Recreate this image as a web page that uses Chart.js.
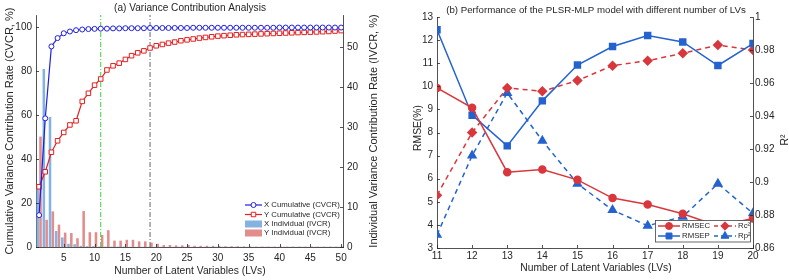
<!DOCTYPE html>
<html><head><meta charset="utf-8">
<script src="https://cdn.jsdelivr.net/npm/chart.js@4/dist/chart.umd.min.js"></script>
<style>
html,body{margin:0;padding:0;background:#fff;overflow:hidden;}
#wrap{position:relative;width:789px;height:280px;}
#c1{position:absolute;left:0;top:0;}
#c2{position:absolute;left:400px;top:0;}
</style></head><body>
<div id="wrap"><canvas id="c1" width="400" height="280"></canvas><canvas id="c2" width="389" height="280"></canvas></div>
<script>
// ---------- Data: (a) Variance Contribution Analysis ----------
const lvsA = [1,2,3,4,5,6,7,8,9,10,11,12,13,14,15,16,17,18,19,20,21,22,23,24,25,26,27,28,29,30,31,32,33,34,35,36,37,38,39,40,41,42,43,44,45,46,47,48,49,50];
const xCum = [14.5,58.5,91.2,95.0,97.2,98.0,98.6,98.9,99.1,99.2,99.3,99.3,99.4,99.4,99.5,99.5,99.5,99.5,99.6,99.6,99.6,99.6,99.6,99.6,99.6,99.7,99.7,99.7,99.7,99.7,99.7,99.7,99.7,99.7,99.7,99.7,99.7,99.7,99.7,99.8,99.8,99.8,99.8,99.8,99.8,99.8,99.8,99.8,99.8,99.8];
const yCum = [27.4,34.2,43.1,48.3,52.1,55.5,57.4,66.2,69.9,73.6,76.4,80.5,82.4,83.6,85.3,87.0,88.3,89.2,90.5,91.5,92.1,92.7,93.2,93.8,94.2,94.6,95.0,95.3,95.6,95.9,96.1,96.3,96.5,96.6,96.7,96.8,96.9,97.0,97.1,97.2,97.3,97.4,97.5,97.6,97.7,97.8,97.9,98.0,98.2,98.4];
const xInd = [14.5,44.5,32.5,4.0,2.4,0.8,0.7,0.3,0.2,0.2,0.1,0.1,0.1,0.1,0.1,0.05,0.05,0.05,0.05,0.05,0.05,0.05,0.05,0.05,0.05,0.05,0.05,0.05,0.05,0.05,0.05,0.05,0.05,0.05,0.05,0.05,0.05,0.05,0.05,0.05,0.05,0.05,0.05,0.05,0.05,0.05,0.05,0.05,0.05,0.05];
const yInd = [27.6,6.8,8.9,5.6,3.6,3.5,2.2,9.0,3.7,3.7,3.0,4.2,1.6,1.6,1.8,1.8,1.4,1.4,1.1,0.8,0.5,0.5,0.4,0.4,0.5,0.3,0.3,0.3,0.3,0.25,0.2,0.2,0.2,0.15,0.15,0.1,0.1,0.1,0.1,0.1,0.1,0.1,0.1,0.1,0.1,0.1,0.1,0.1,0.1,0.1];
const markLVs = [11, 19];
const xTicksA = [5,10,15,20,25,30,35,40,45,50];
const yTicksA = [0,20,40,60,80,100];
const y1TicksA = [0,10,20,30,40,50];

// ---------- Data: (b) PLSR-MLP performance ----------
const lvsB = [11,12,13,14,15,16,17,18,19,20];
const rmsec = [9.93,9.07,6.28,6.40,5.95,5.16,4.88,4.48,3.95,4.28];
const rmsep = [12.45,8.75,7.42,9.37,10.92,11.72,12.2,11.92,10.9,11.85];
const rc2 = [0.892,0.930,0.957,0.955,0.9615,0.9705,0.9735,0.978,0.983,0.980];
const rp2 = [0.868,0.916,0.954,0.925,0.899,0.883,0.8735,0.879,0.899,0.881];
const yTicksB = [3,4,5,6,7,8,9,10,11,12,13];
const y1TicksB = [0.86,0.88,0.9,0.92,0.94,0.96,0.98,1];

const FONT = "'Liberation Sans', Arial, Helvetica, sans-serif";
const TXT = '#262626';
const AX = '#262626';

const cBlueA = '#1f1fe0', cRedA = '#e42020';
const cBlueBar = 'rgba(110,165,220,0.85)', cRedBar = 'rgba(222,120,120,0.85)';
const cRedB = '#d8373c', cBlueB = '#2463cf';

function pts(xs, ys){ return xs.map((x,i)=>({x:x, y:ys[i]})); }
function fixTicks(arr){ return s => { s.ticks = arr.map(v=>({value:v})); }; }

function inwardTicks(chart, xArr, yArr, y1Arr){
  const ctx = chart.ctx, a = chart.chartArea, s = chart.scales;
  ctx.save(); ctx.strokeStyle = AX; ctx.lineWidth = 0.8;
  ctx.beginPath();
  xArr.forEach(v=>{ const p = Math.round(s.x.getPixelForValue(v))+0.5; ctx.moveTo(p,a.bottom); ctx.lineTo(p,a.bottom-3); });
  yArr.forEach(v=>{ const p = Math.round(s.y.getPixelForValue(v))+0.5; ctx.moveTo(a.left,p); ctx.lineTo(a.left+3,p); });
  y1Arr.forEach(v=>{ const p = Math.round(s.y1.getPixelForValue(v))+0.5; ctx.moveTo(a.right,p); ctx.lineTo(a.right-3,p); });
  ctx.stroke(); ctx.restore();
}
function text(ctx, str, x, y, size, rot, align){
  ctx.save(); ctx.translate(x,y); if(rot) ctx.rotate(rot);
  ctx.font = size + 'px ' + FONT; ctx.fillStyle = TXT;
  ctx.textAlign = align || 'center'; ctx.textBaseline = 'middle';
  ctx.fillText(str, 0, 0); ctx.restore();
}
function marker(ctx, style, r, x, y, fill, stroke){
  ctx.save(); ctx.fillStyle = fill; ctx.strokeStyle = stroke; ctx.lineWidth = 1;
  Chart.helpers.drawPoint(ctx, {pointStyle: style, radius: r, rotation: 0, borderWidth: 1}, x, y);
  ctx.restore();
}

const axisCommon = { grid: {display:false, drawTicks:false}, border: {display:true, color: AX, width: 0.8} };

// ---------- Chart (a) ----------
const pluginA = {
  id: 'decoA',
  afterDraw(chart){
    const ctx = chart.ctx;
    inwardTicks(chart, xTicksA, yTicksA, y1TicksA);
    text(ctx, '(a) Variance Contribution Analysis', 190, 8, 10.1);
    text(ctx, 'Cumulative Variance Contribution Rate (CVCR, %)', 10, 131, 11, -Math.PI/2);
    text(ctx, 'Individual Variance Contribution Rate (IVCR, %)', 374, 131, 11, -Math.PI/2);
    text(ctx, 'Number of Latent Variables (LVs)', 190, 271, 10.3);
    // legend
    ctx.save();
    ctx.lineWidth = 1.2;
    ctx.strokeStyle = cBlueA; ctx.beginPath(); ctx.moveTo(245,205); ctx.lineTo(262,205); ctx.stroke();
    marker(ctx,'circle',2.5,253.5,205,'#fff',cBlueA);
    ctx.strokeStyle = cRedA; ctx.beginPath(); ctx.moveTo(245,214.5); ctx.lineTo(262,214.5); ctx.stroke();
    marker(ctx,'rect',3.2,253.5,214.5,'#fff',cRedA);
    ctx.fillStyle = cBlueBar; ctx.fillRect(245,220.5,17,7);
    ctx.fillStyle = cRedBar; ctx.fillRect(245,229.5,17,7);
    ctx.restore();
    text(ctx,'X Cumulative (CVCR)',264,205,7.8,0,'left');
    text(ctx,'Y Cumulative (CVCR)',264,214.5,7.8,0,'left');
    text(ctx,'X Individual (IVCR)',264,224,7.8,0,'left');
    text(ctx,'Y Individual (IVCR)',264,233,7.8,0,'left');
  }
};

new Chart(document.getElementById('c1'), {
  type: 'bar',
  data: {
    datasets: [
      {type:'line', label:'X Cumulative (CVCR)', data: pts(lvsA,xCum), yAxisID:'y', borderColor:cBlueA, borderWidth:1.2,
       pointStyle:'circle', pointRadius:2.5, pointBorderWidth:1, pointBackgroundColor:'#fff', pointBorderColor:cBlueA, order:1},
      {type:'line', label:'Y Cumulative (CVCR)', data: pts(lvsA,yCum), yAxisID:'y', borderColor:cRedA, borderWidth:1.2,
       pointStyle:'rect', pointRadius:3.2, pointBorderWidth:1, pointBackgroundColor:'#fff', pointBorderColor:cRedA, order:1},
      {type:'line', label:'LV mark 1', data: [{x:markLVs[0],y:0},{x:markLVs[0],y:105.5}], yAxisID:'y', borderColor:'#3bd43b', borderWidth:1,
       borderDash:[5,2,1,2], pointRadius:0, order:2},
      {type:'line', label:'LV mark 2', data: [{x:markLVs[1],y:0},{x:markLVs[1],y:105.5}], yAxisID:'y', borderColor:'#666666', borderWidth:1,
       borderDash:[5,2,1,2], pointRadius:0, order:2},
      {type:'bar', label:'X Individual (IVCR)', data: pts(lvsA,xInd), yAxisID:'y1', backgroundColor:cBlueBar, borderWidth:0,
       categoryPercentage:0.92, barPercentage:0.9, order:3},
      {type:'bar', label:'Y Individual (IVCR)', data: pts(lvsA,yInd), yAxisID:'y1', backgroundColor:cRedBar, borderWidth:0,
       categoryPercentage:0.92, barPercentage:0.9, order:3}
    ]
  },
  options: {
    responsive:false, animation:false, devicePixelRatio:1,
    layout:{padding:{top:15,left:0,right:0,bottom:0}},
    plugins:{legend:{display:false}, tooltip:{enabled:false}},
    scales:{
      x:{type:'linear', position:'bottom', min:0.5, max:50.3, offset:false, ...axisCommon,
         afterBuildTicks: fixTicks(xTicksA), afterFit: s=>{s.height=33;},
         ticks:{padding:5, color:TXT, font:{size:10, family:FONT}, maxRotation:0, autoSkip:false}},
      y:{type:'linear', position:'left', min:0, max:105.5, ...axisCommon,
         afterBuildTicks: fixTicks(yTicksA), afterFit: s=>{s.width=36;},
         ticks:{padding:4, color:TXT, font:{size:10, family:FONT}}},
      y1:{type:'linear', position:'right', min:0, max:58, ...axisCommon,
         afterBuildTicks: fixTicks(y1TicksA), afterFit: s=>{s.width=57;},
         ticks:{padding:4, color:TXT, font:{size:10, family:FONT}}}
    }
  },
  plugins:[pluginA]
});

// ---------- Chart (b) ----------
const pluginB = {
  id: 'decoB',
  afterDraw(chart){
    const ctx = chart.ctx;
    inwardTicks(chart, lvsB, yTicksB, y1TicksB);
    text(ctx, '(b) Performance of the PLSR-MLP model with different number of LVs', 196, 10, 9.7);
    text(ctx, 'RMSE(%)', 18, 128, 10.3, -Math.PI/2);
    text(ctx, 'R²', 385, 140, 10.3, -Math.PI/2);
    text(ctx, 'Number of Latent Variables (LVs)', 196, 268, 10.3);
    // legend box
    ctx.save();
    ctx.fillStyle = '#fff'; ctx.fillRect(255.5,220.5,95,21.5);
    ctx.strokeStyle = '#444'; ctx.lineWidth = 0.8; ctx.strokeRect(255.5,220.5,95,21.5);
    ctx.lineWidth = 1.5;
    ctx.strokeStyle = cRedB; ctx.beginPath(); ctx.moveTo(258,226); ctx.lineTo(280,226); ctx.stroke();
    marker(ctx,'circle',3.5,269,226,cRedB,cRedB);
    ctx.strokeStyle = cBlueB; ctx.beginPath(); ctx.moveTo(258,236); ctx.lineTo(280,236); ctx.stroke();
    marker(ctx,'rect',4.2,269,236,cBlueB,cBlueB);
    ctx.setLineDash([4,3]);
    ctx.strokeStyle = cRedB; ctx.beginPath(); ctx.moveTo(314,226); ctx.lineTo(336,226); ctx.stroke();
    ctx.strokeStyle = cBlueB; ctx.beginPath(); ctx.moveTo(314,236); ctx.lineTo(336,236); ctx.stroke();
    ctx.setLineDash([]);
    marker(ctx,'rectRot',4.2,325,226,cRedB,cRedB);
    marker(ctx,'triangle',4.5,325,236,cBlueB,cBlueB);
    ctx.restore();
    text(ctx,'RMSEC',282,226,7.8,0,'left');
    text(ctx,'RMSEP',282,236,7.8,0,'left');
    text(ctx,'Rc²',338,226,7.8,0,'left');
    text(ctx,'Rp²',338,236,7.8,0,'left');
  }
};

new Chart(document.getElementById('c2'), {
  type: 'line',
  data: {
    datasets: [
      {label:'RMSEC', data: pts(lvsB,rmsec), yAxisID:'y', borderColor:cRedB, borderWidth:1.5,
       pointStyle:'circle', pointRadius:3.5, pointBackgroundColor:cRedB, pointBorderColor:cRedB},
      {label:'RMSEP', data: pts(lvsB,rmsep), yAxisID:'y', borderColor:cBlueB, borderWidth:1.5,
       pointStyle:'rect', pointRadius:4.2, pointBackgroundColor:cBlueB, pointBorderColor:cBlueB},
      {label:'Rc²', data: pts(lvsB,rc2), yAxisID:'y1', borderColor:cRedB, borderWidth:1.5, borderDash:[5,4],
       pointStyle:'rectRot', pointRadius:4.2, pointBackgroundColor:cRedB, pointBorderColor:cRedB},
      {label:'Rp²', data: pts(lvsB,rp2), yAxisID:'y1', borderColor:cBlueB, borderWidth:1.5, borderDash:[5,4],
       pointStyle:'triangle', pointRadius:4.5, pointBackgroundColor:cBlueB, pointBorderColor:cBlueB}
    ]
  },
  options: {
    responsive:false, animation:false, devicePixelRatio:1,
    layout:{padding:{top:17,left:0,right:0,bottom:0}},
    plugins:{legend:{display:false}, tooltip:{enabled:false}},
    scales:{
      x:{type:'linear', position:'bottom', min:11, max:20, offset:false, ...axisCommon,
         afterBuildTicks: fixTicks(lvsB), afterFit: s=>{s.height=32;},
         ticks:{padding:2, color:TXT, font:{size:10, family:FONT}, maxRotation:0, autoSkip:false}},
      y:{type:'linear', position:'left', min:3, max:13, ...axisCommon,
         afterBuildTicks: fixTicks(yTicksB), afterFit: s=>{s.width=37;},
         ticks:{padding:4, color:TXT, font:{size:10, family:FONT}}},
      y1:{type:'linear', position:'right', min:0.86, max:1, ...axisCommon,
         afterBuildTicks: fixTicks(y1TicksB), afterFit: s=>{s.width=36;},
         ticks:{padding:2, color:TXT, font:{size:10, family:FONT}, callback: v => (v===1 ? '1' : String(+v.toFixed(2)))}}
    }
  },
  plugins:[pluginB]
});
</script>
</body></html>
